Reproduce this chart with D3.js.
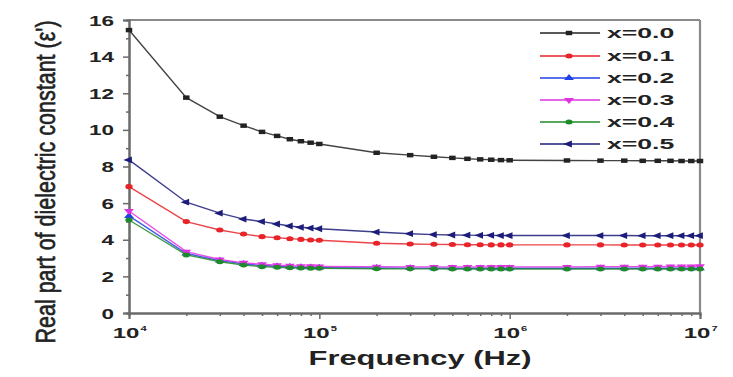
<!DOCTYPE html>
<html><head><meta charset="utf-8">
<script src="https://cdn.jsdelivr.net/npm/d3@7"></script>
<style>body{margin:0;background:#fff}svg{display:block}text{font-family:"Liberation Sans",Arial,sans-serif}</style>
</head><body>
<svg id="c" width="733" height="377"></svg>
<script>
const freqs = [1e4,2e4,3e4,4e4,5e4,6e4,7e4,8e4,9e4,1e5,2e5,3e5,4e5,5e5,6e5,7e5,8e5,9e5,1e6,2e6,3e6,4e6,5e6,6e6,7e6,8e6,9e6,1e7];
const seriesNames = ["x=0.0","x=0.1","x=0.2","x=0.3","x=0.4","x=0.5"];
const s00 = [15.45,11.76,10.72,10.23,9.89,9.67,9.49,9.38,9.30,9.23,8.75,8.62,8.53,8.47,8.42,8.39,8.37,8.35,8.34,8.33,8.32,8.32,8.31,8.31,8.31,8.30,8.30,8.30];
const s01 = [6.90,4.99,4.53,4.31,4.17,4.11,4.06,4.02,3.99,3.97,3.81,3.77,3.75,3.74,3.73,3.73,3.72,3.72,3.72,3.72,3.72,3.71,3.71,3.71,3.71,3.71,3.71,3.71];
const s02 = [5.30,3.25,2.86,2.68,2.59,2.55,2.52,2.50,2.49,2.48,2.46,2.45,2.44,2.44,2.44,2.44,2.44,2.44,2.44,2.44,2.44,2.44,2.44,2.44,2.44,2.44,2.44,2.44];
const s03 = [5.57,3.35,2.92,2.74,2.66,2.61,2.58,2.56,2.55,2.54,2.53,2.52,2.52,2.52,2.52,2.52,2.52,2.52,2.52,2.52,2.53,2.53,2.53,2.53,2.54,2.54,2.54,2.55];
const s04 = [5.08,3.17,2.80,2.62,2.53,2.50,2.47,2.46,2.44,2.44,2.42,2.41,2.41,2.40,2.40,2.40,2.40,2.40,2.40,2.40,2.40,2.40,2.40,2.40,2.40,2.40,2.40,2.40];
const s05 = [8.36,6.05,5.45,5.13,4.99,4.86,4.75,4.68,4.64,4.60,4.42,4.33,4.28,4.26,4.25,4.24,4.24,4.23,4.23,4.23,4.23,4.23,4.22,4.22,4.22,4.22,4.22,4.22];
const yTicks = [0,2,4,6,8,10,12,14,16];
const xTickExps = [4,5,6,7];
const xLabel = "Frequency (Hz)";
const yLabel = "Real part of dielectric constant (ε')";

const allSeries = [s00,s01,s02,s03,s04,s05];
const colors = ["#222222","#e8232a","#2040e8","#e030e0","#1f8a2a","#1c1c7a"];
const shapes = [d3.symbolSquare,d3.symbolCircle,d3.symbolTriangle,"down",d3.symbolCircle,"left"];

const L=129,R=700,T=20,B=313;
const svg = d3.select("#c");
const x = d3.scaleLog().domain([1e4,1e7]).range([L,R]);
const y = d3.scaleLinear().domain([0,16]).range([B,T]);
const SX = 1.45;

svg.append("line").attr("x1",L).attr("x2",R).attr("y1",T).attr("y2",T).attr("stroke","#8a8a8a").attr("stroke-width",2.2);
svg.append("line").attr("x1",R).attr("x2",R).attr("y1",T).attr("y2",B).attr("stroke","#8a8a8a").attr("stroke-width",2.2);

const gy = svg.append("g").attr("transform",`translate(${L},0)`);
gy.call(d3.axisLeft(y).tickValues(yTicks).tickSize(6).tickFormat(""));
const gy2 = svg.append("g").attr("transform",`translate(${L},0)`);
gy2.call(d3.axisLeft(y).tickValues(d3.range(1,16,2)).tickSize(3).tickFormat(""));
[gy,gy2].forEach(g=>{g.select(".domain").attr("stroke","#6a6a6a").attr("stroke-width",2);g.selectAll(".tick line").attr("stroke","#6a6a6a").attr("stroke-width",1.5);});
svg.append("g").selectAll("text").data(yTicks).join("text")
  .attr("transform",d=>`translate(114,${y(d)+5.5}) scale(1.5,1)`)
  .attr("text-anchor","end").attr("font-size",15).attr("font-weight","bold").attr("fill","#222")
  .text(d=>d);

const majors = xTickExps.map(e=>Math.pow(10,e));
const minors = [];
for(let e=4;e<7;e++) for(let k=2;k<10;k++) minors.push(k*Math.pow(10,e));
const gx = svg.append("g").attr("transform",`translate(0,${B})`);
gx.call(d3.axisBottom(x).tickValues(majors).tickSize(6).tickFormat(""));
const gx2 = svg.append("g").attr("transform",`translate(0,${B})`);
gx2.call(d3.axisBottom(x).tickValues(minors).tickSize(3).tickFormat(""));
[gx,gx2].forEach(g=>{g.select(".domain").attr("stroke","#6a6a6a").attr("stroke-width",2);g.selectAll(".tick line").attr("stroke","#6a6a6a").attr("stroke-width",1.5);});
const xl = svg.append("g").selectAll("g").data(xTickExps).join("g")
  .attr("transform",e=>`translate(${x(Math.pow(10,e))-3},338) scale(1.6,1)`);
xl.append("text").attr("text-anchor","middle").attr("font-size",15).attr("font-weight","bold").attr("fill","#222").text("10");
xl.append("text").attr("x",9).attr("y",-7).attr("font-size",7).attr("font-weight","bold").attr("fill","#222").text(e=>e);

svg.append("text").attr("transform",`translate(420,365) scale(1.47,1)`).attr("text-anchor","middle")
  .attr("font-size",21).attr("font-weight","bold").attr("fill","#222").text(xLabel);
svg.append("text").attr("transform",`translate(55,182) scale(1.25,1) rotate(-90)`).attr("text-anchor","middle")
  .attr("font-size",21.5).attr("fill","#222").attr("stroke","#222").attr("stroke-width",0.5).text(yLabel);

function marker(sel,i,size){
  const sh = shapes[i];
  let p, rot=0;
  if(sh==="down"){p=d3.symbol(d3.symbolTriangle,size)(); rot=180;}
  else if(sh==="left"){p=d3.symbol(d3.symbolTriangle,size)(); rot=-90;}
  else p=d3.symbol(sh,size)();
  return sel.append("path").attr("d",p).attr("fill",colors[i]).attr("transform",`rotate(${rot})`);
}

const line = d3.line().x(d=>x(d[0])).y(d=>y(d[1]));
allSeries.forEach((vals,i)=>{
  const pts = freqs.map((f,j)=>[f,vals[j]]);
  const g = svg.append("g");
  g.append("path").datum(pts).attr("d",line).attr("fill","none").attr("stroke",colors[i]).attr("stroke-width",1.4).attr("stroke-opacity",0.85);
  g.selectAll("g.m").data(pts).join("g").attr("class","m")
    .attr("transform",d=>`translate(${x(d[0])},${y(d[1])}) scale(${SX},1)`)
    .each(function(){ marker(d3.select(this),i,20); });
});

const ly = [33,56,78,100,122,144];
seriesNames.forEach((n,i)=>{
  const g = svg.append("g");
  g.append("line").attr("x1",540).attr("x2",600).attr("y1",ly[i]).attr("y2",ly[i]).attr("stroke",colors[i]).attr("stroke-width",1.4);
  const mg = g.append("g").attr("transform",`translate(569,${ly[i]}) scale(${SX},1)`);
  marker(mg,i,20);
  g.append("text").attr("transform",`translate(607,${ly[i]+5}) scale(1.9,1)`).attr("font-size",14).attr("font-weight","bold").attr("fill","#222").text(n);
});
</script>
</body></html>
